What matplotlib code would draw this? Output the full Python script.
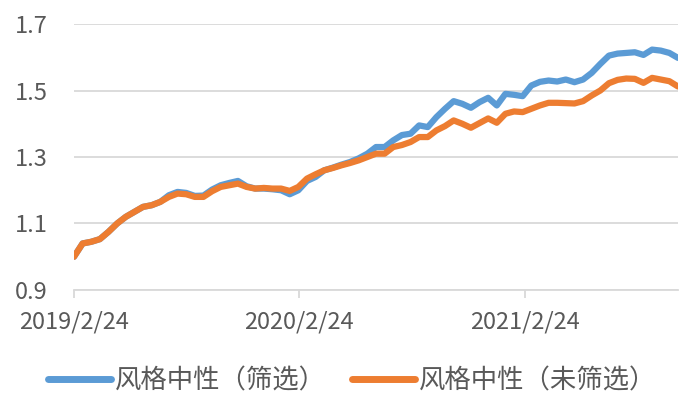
import matplotlib
matplotlib.use("Agg")
import matplotlib.pyplot as plt
import pandas as pd

plt.rcParams['font.family'] = ['Noto Sans CJK SC', 'DejaVu Sans']

start_date = "2019-02-24"
step_days = 14

filtered = [
    1.000, 1.040, 1.045, 1.053, 1.075, 1.100, 1.120, 1.135, 1.150, 1.155,
    1.165, 1.185, 1.195, 1.192, 1.183, 1.184, 1.202, 1.215, 1.222, 1.228,
    1.212, 1.205, 1.205, 1.203, 1.200, 1.188, 1.200, 1.228, 1.240, 1.260,
    1.268, 1.277, 1.285, 1.296, 1.310, 1.330, 1.330, 1.350, 1.366, 1.370,
    1.395, 1.390, 1.420, 1.445, 1.468, 1.460, 1.448, 1.465, 1.478, 1.455,
    1.490, 1.487, 1.483, 1.515, 1.526, 1.530, 1.527, 1.533, 1.525, 1.533,
    1.553, 1.580, 1.605, 1.611, 1.613, 1.615, 1.607, 1.623, 1.620, 1.613,
    1.598,
]
unfiltered = [
    1.000, 1.040, 1.045, 1.053, 1.075, 1.100, 1.120, 1.135, 1.150, 1.155,
    1.165, 1.180, 1.190, 1.188, 1.180, 1.180, 1.197, 1.210, 1.215, 1.220,
    1.210, 1.205, 1.207, 1.205, 1.205, 1.198, 1.210, 1.235, 1.248, 1.260,
    1.267, 1.275, 1.282, 1.290, 1.300, 1.310, 1.310, 1.330, 1.336, 1.345,
    1.360, 1.360, 1.380, 1.393, 1.410, 1.400, 1.388, 1.402, 1.416, 1.403,
    1.430, 1.437, 1.435, 1.445, 1.455, 1.463, 1.463, 1.462, 1.461, 1.468,
    1.485, 1.500, 1.522, 1.532, 1.536, 1.535, 1.523, 1.538, 1.533, 1.528,
    1.512,
]
series_names = ["风格中性（筛选）", "风格中性（未筛选）"]
x_tick_dates = ["2019-02-24", "2020-02-24", "2021-02-24"]
x_tick_labels = ["2019/2/24", "2020/2/24", "2021/2/24"]
y_ticks = [0.9, 1.1, 1.3, 1.5, 1.7]

dates = pd.date_range(start_date, periods=len(filtered), freq=f"{step_days}D")

fig = plt.figure(figsize=(6.9, 4.05), dpi=100)
ax = fig.add_axes([74/690, 1-290/405, (678-74)/690, (290-24)/405])

blue = "#5B9BD5"
orange = "#ED7D31"
grid_c = "#D9D9D9"
text_c = "#595959"

l1, = ax.plot(dates, filtered, color=blue, lw=4.5, solid_joinstyle='round', solid_capstyle='round', zorder=3)
l2, = ax.plot(dates, unfiltered, color=orange, lw=4.5, solid_joinstyle='round', solid_capstyle='round', zorder=4)

ax.set_xlim(dates[0], dates[-1])
ax.set_ylim(0.9, 1.7)
ax.set_yticks(y_ticks)
ax.set_yticklabels([f"{v:.1f}" for v in y_ticks])
ax.set_xticks([pd.Timestamp(d) for d in x_tick_dates])
ax.set_xticklabels(x_tick_labels)

for s in ["top", "right", "left"]:
    ax.spines[s].set_visible(False)
ax.spines["bottom"].set_color(grid_c)
ax.spines["bottom"].set_linewidth(1.3)
ax.yaxis.grid(True, color=grid_c, lw=1.3)
ax.set_axisbelow(True)

ax.tick_params(axis='y', length=0, pad=19, labelsize=17, labelcolor=text_c)
ax.tick_params(axis='x', length=6, width=1.3, color=grid_c, pad=9, labelsize=17, labelcolor=text_c)

fig.legend([l1, l2], series_names, loc='center', bbox_to_anchor=(352/690, 1-381/405),
           ncol=2, frameon=False, fontsize=19, labelcolor=text_c,
           handlelength=2.4, handletextpad=0.12, columnspacing=1.0, borderpad=0, borderaxespad=0)
for h in fig.legends[0].legend_handles:
    h.set_linewidth(5)
    h.set_solid_capstyle('round')

fig.savefig("out.png", dpi=100)
